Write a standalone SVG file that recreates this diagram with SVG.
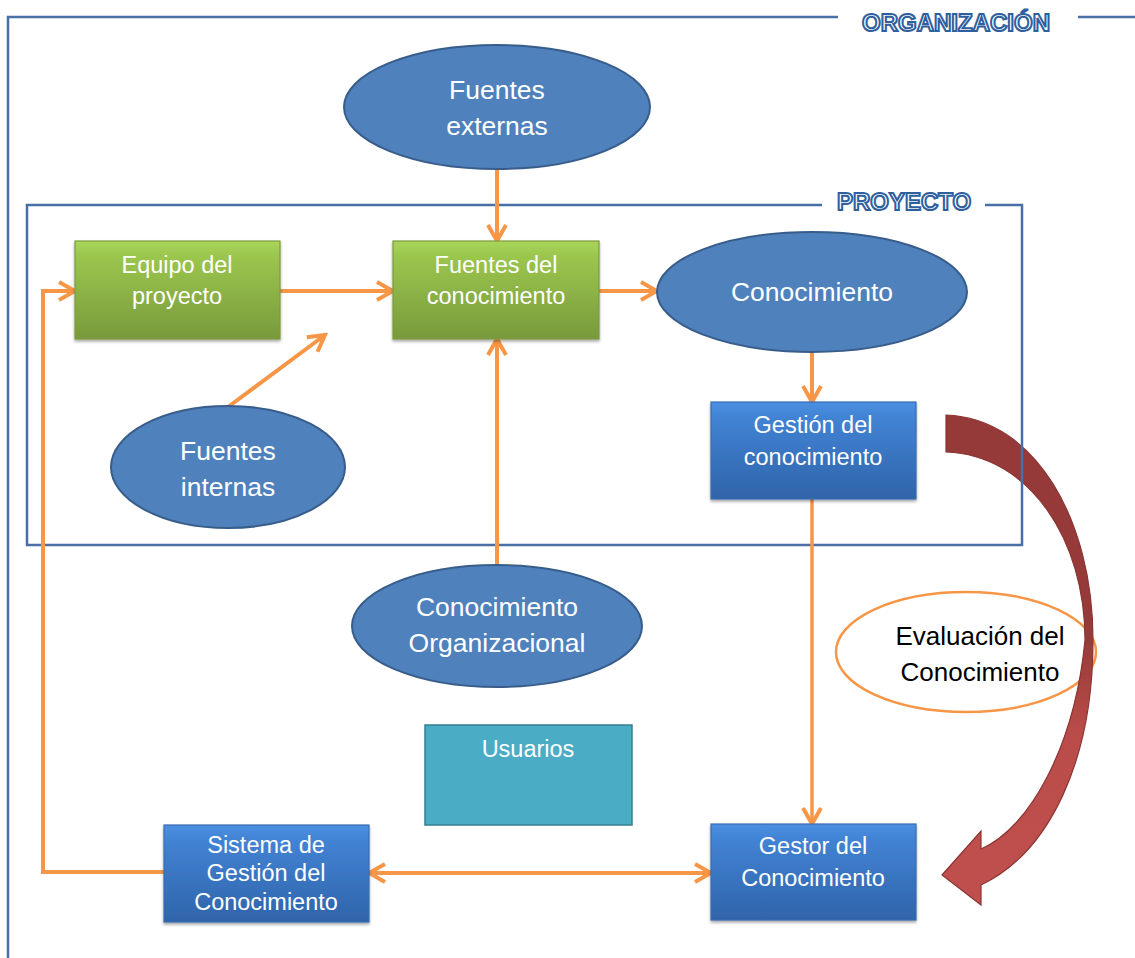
<svg xmlns="http://www.w3.org/2000/svg" width="1135" height="958" viewBox="0 0 1135 958">
<style>
.frame{fill:none;stroke:#4a6ea6;stroke-width:2.5}
.lbl{font-family:"Liberation Sans",Arial,sans-serif;font-weight:bold;font-size:24px;fill:#ffffff;stroke:#2f5f9e;stroke-width:2;paint-order:normal;text-anchor:middle}
.ell{fill:#4f81bd;stroke:#385d8a;stroke-width:2}
.green{fill:url(#gGreen);stroke:#7c9b3f;stroke-width:1.2;filter:url(#sh)}
.blue{fill:url(#gBlue);stroke:#3a6cb0;stroke-width:1.2;filter:url(#sh)}
.t{font-family:"Liberation Sans",Arial,sans-serif;fill:#ffffff;text-anchor:middle}
.te{font-size:26.5px}
.tb{font-size:23.5px}
.con{fill:none;stroke:#f79646;stroke-width:4}
</style>
<defs>
<linearGradient id="gGreen" x1="0" y1="0" x2="0" y2="1">
<stop offset="0" stop-color="#a9d65a"/>
<stop offset="0.15" stop-color="#9bc64e"/>
<stop offset="1" stop-color="#789a3c"/>
</linearGradient>
<linearGradient id="gBlue" x1="0" y1="0" x2="0" y2="1">
<stop offset="0" stop-color="#4b90e2"/>
<stop offset="0.15" stop-color="#4283d4"/>
<stop offset="1" stop-color="#2f64aa"/>
</linearGradient>
<linearGradient id="gRed" x1="0" y1="415" x2="0" y2="905" gradientUnits="userSpaceOnUse">
<stop offset="0" stop-color="#953a38"/>
<stop offset="0.45" stop-color="#963b39"/>
<stop offset="0.65" stop-color="#b94c49"/>
<stop offset="1" stop-color="#c0504d"/>
</linearGradient>
<filter id="sh" x="-10%" y="-10%" width="120%" height="130%">
<feDropShadow dx="0" dy="2" stdDeviation="1.5" flood-color="#000" flood-opacity="0.35"/>
</filter>
<marker id="arr" viewBox="0 0 24 24" markerWidth="24" markerHeight="24" markerUnits="userSpaceOnUse" refX="21" refY="12" orient="auto-start-reverse">
<path d="M5,3 L21,12 L5,21" fill="none" stroke="#f79646" stroke-width="4"/>
</marker>
</defs>
<rect width="1135" height="958" fill="#ffffff"/>

<g id="evaluacion">
<ellipse cx="966" cy="652" rx="130" ry="60" fill="#ffffff" stroke="#f79646" stroke-width="2.5"/>
<text class="t" x="980" y="645" font-size="26" fill="#000000" style="fill:#000">Evaluación del</text>
<text class="t" x="980" y="681" font-size="26" style="fill:#000">Conocimiento</text>
</g>

<g id="flecha-evaluacion">
<path d="M946,415 C1035,418 1093,520 1093,640 C1093,760 1050,852 981,885 L981,905 L942,875 L981,831 L981,849 C1030,828 1075,745 1085,640 C1085,540 1030,455 946,452 Z" fill="url(#gRed)" stroke="#8a3533" stroke-width="1.2"/>
</g>

<g id="organizacion">
<path class="frame" d="M838,17 H8 V958"/>
<path class="frame" d="M1078,17 H1135"/>
<text class="lbl" x="956" y="31">ORGANIZACIÓN</text>
</g>

<g id="proyecto">
<path class="frame" d="M822,205 H27 V545 H1022 V205 H985"/>
<text class="lbl" x="904" y="210">PROYECTO</text>
</g>

<g id="connectors">
<line class="con" x1="497" y1="170" x2="497" y2="241" marker-end="url(#arr)"/>
<line class="con" x1="280" y1="291" x2="393" y2="291" marker-end="url(#arr)"/>
<line class="con" x1="228" y1="407" x2="325" y2="335" marker-end="url(#arr)"/>
<line class="con" x1="497" y1="565" x2="497" y2="339" marker-end="url(#arr)"/>
<line class="con" x1="599" y1="291" x2="657" y2="291" marker-end="url(#arr)"/>
<line class="con" x1="812" y1="352" x2="812" y2="402" marker-end="url(#arr)"/>
<line class="con" x1="812" y1="499" x2="812" y2="824" style="stroke-width:3.5" marker-end="url(#arr)"/>
<line class="con" x1="369" y1="873" x2="711" y2="873" marker-start="url(#arr)" marker-end="url(#arr)"/>
<path class="con" d="M164,872 H43 V291 H75" marker-end="url(#arr)"/>
</g>

<g id="fuentes-externas">
<ellipse class="ell" cx="497" cy="107" rx="153" ry="62"/>
<text class="t te" x="497" y="99">Fuentes</text>
<text class="t te" x="497" y="135">externas</text>
</g>

<g id="equipo-proyecto">
<rect class="green" x="75" y="241" width="205" height="98"/>
<text class="t tb" x="177" y="273">Equipo del</text>
<text class="t tb" x="177" y="304">proyecto</text>
</g>

<g id="fuentes-conocimiento">
<rect class="green" x="393" y="241" width="206" height="98"/>
<text class="t tb" x="496" y="273">Fuentes del</text>
<text class="t tb" x="496" y="304">conocimiento</text>
</g>

<g id="conocimiento">
<ellipse class="ell" cx="812" cy="292" rx="155" ry="60"/>
<text class="t te" x="812" y="301">Conocimiento</text>
</g>

<g id="gestion-conocimiento">
<rect class="blue" x="711" y="402" width="205" height="97"/>
<text class="t tb" x="813" y="433">Gestión del</text>
<text class="t tb" x="813" y="465">conocimiento</text>
</g>

<g id="fuentes-internas">
<ellipse class="ell" cx="228" cy="467" rx="117" ry="61"/>
<text class="t te" x="228" y="460">Fuentes</text>
<text class="t te" x="228" y="496">internas</text>
</g>

<g id="conocimiento-organizacional">
<ellipse class="ell" cx="497" cy="626" rx="145" ry="61"/>
<text class="t te" x="497" y="616">Conocimiento</text>
<text class="t te" x="497" y="652">Organizacional</text>
</g>

<g id="usuarios">
<rect x="425" y="725" width="207" height="100" fill="#4bacc6" stroke="#357f93" stroke-width="1.5"/>
<text class="t tb" x="528" y="757">Usuarios</text>
</g>

<g id="sistema-gestion">
<rect class="blue" x="164" y="825" width="205" height="97"/>
<text class="t tb" x="266" y="853">Sistema de</text>
<text class="t tb" x="266" y="881">Gestión del</text>
<text class="t tb" x="266" y="910">Conocimiento</text>
</g>

<g id="gestor-conocimiento">
<rect class="blue" x="711" y="824" width="205" height="96"/>
<text class="t tb" x="813" y="854">Gestor del</text>
<text class="t tb" x="813" y="886">Conocimiento</text>
</g>
</svg>
